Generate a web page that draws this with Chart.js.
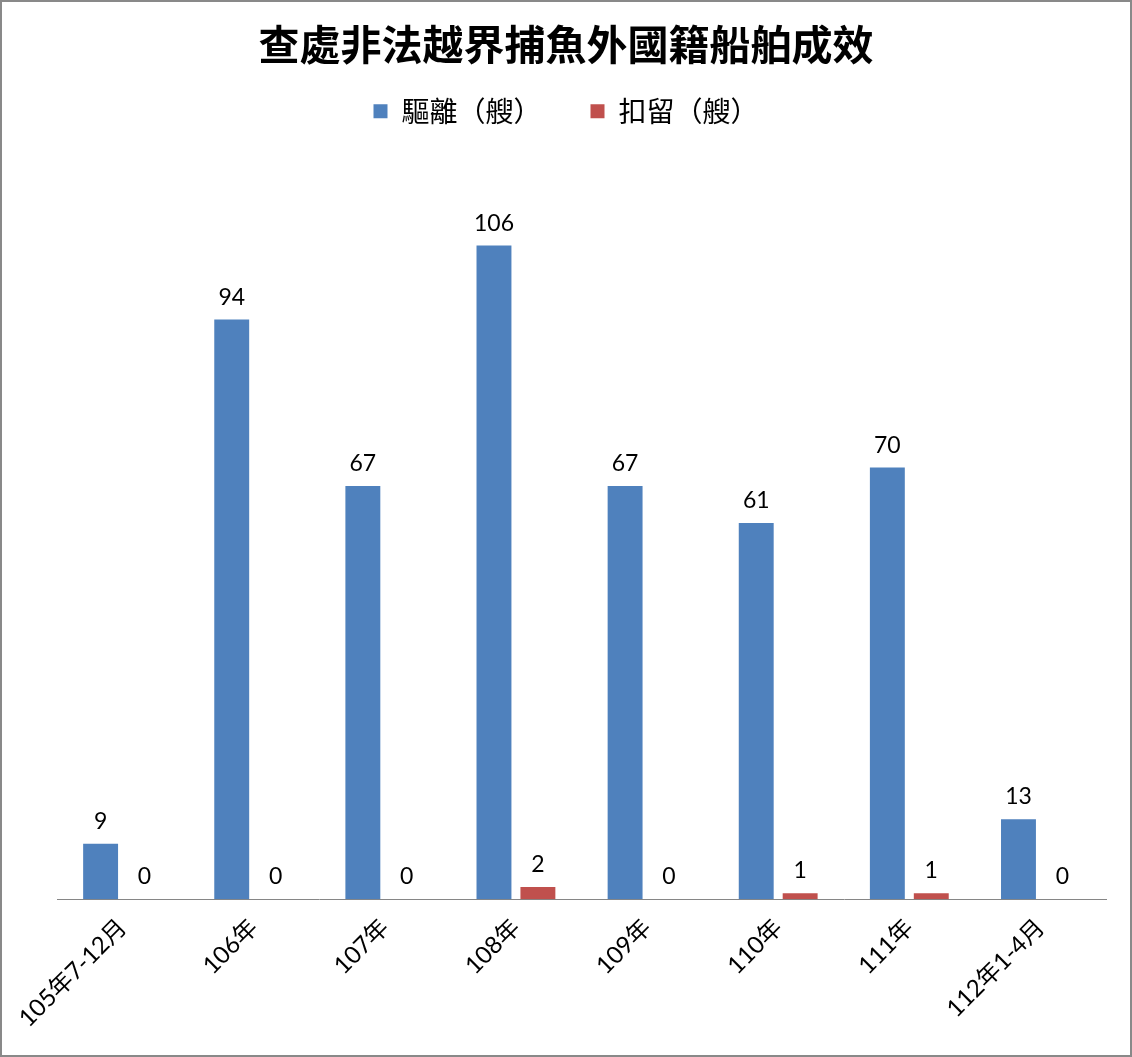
<!DOCTYPE html>
<html>
<head>
<meta charset="utf-8">
<script src="https://cdn.jsdelivr.net/npm/chart.js@4"></script>
<style>
    html, body { margin: 0; padding: 0; background: #fff; }
    #wrap {
        width: 1132px; height: 1057px; box-sizing: border-box;
        border: 2px solid #898989; position: relative;
    }
</style>
</head>
<body>
<div id="wrap"><canvas id="fishChart"></canvas></div>
<script>
const categories = ['105年7-12月', '106年', '107年', '108年', '109年', '110年', '111年', '112年1-4月'];
const expelled = [9, 94, 67, 106, 67, 61, 70, 13];
const detained = [0, 0, 0, 2, 0, 1, 1, 0];
const seriesNames = ['驅離（艘）', '扣留（艘）'];
const yMax = 120;

const numFont = "Lato, 'Noto Sans CJK TC', sans-serif";
const cjkFont = "'Noto Sans CJK TC', sans-serif";

// value labels above each bar
const barLabels = {
    id: 'barLabels',
    afterDatasetsDraw(chart) {
        const ctx = chart.ctx;
        ctx.save();
        ctx.font = "23px " + numFont;
        ctx.fillStyle = '#000';
        ctx.textAlign = 'center';
        ctx.textBaseline = 'alphabetic';
        chart.data.datasets.forEach(function(ds, i) {
            chart.getDatasetMeta(i).data.forEach(function(bar, j) {
                ctx.fillText(ds.data[j], bar.x, bar.y - 15);
            });
        });
        ctx.restore();
    }
};

// make room under the legend so the plot starts lower
const legendSpace = {
    id: 'legendSpace',
    beforeInit(chart) {
        const fit = chart.legend.fit;
        chart.legend.fit = function() {
            fit.bind(chart.legend)();
            this.height = 111;
        };
    }
};

const ctx = document.getElementById('fishChart').getContext('2d');
const chart = new Chart(ctx, {
    type: 'bar',
    data: {
        labels: categories,
        datasets: [{
            label: seriesNames[0],
            data: expelled,
            backgroundColor: '#4F81BD',
            categoryPercentage: 0.67,
            barPercentage: 0.795
        }, {
            label: seriesNames[1],
            data: detained,
            backgroundColor: '#C0504D',
            categoryPercentage: 0.67,
            barPercentage: 0.795
        }]
    },
    options: {
        responsive: true,
        maintainAspectRatio: false,
        animation: false,
        layout: {
            padding: { left: 24, right: 24, top: 0, bottom: 8 }
        },
        plugins: {
            title: {
                display: true,
                text: '查處非法越界捕魚外國籍船舶成效',
                color: '#000',
                font: { family: cjkFont, size: 41, weight: 'bold' },
                padding: { top: 18, bottom: -21 }
            },
            legend: {
                position: 'top',
                labels: {
                    color: '#000',
                    font: { family: cjkFont, size: 28 },
                    boxWidth: 14,
                    boxHeight: 14,
                    padding: 49
                }
            },
            tooltip: { enabled: false }
        },
        scales: {
            x: {
                grid: { display: false, drawTicks: false },
                border: { color: '#868686', width: 1 },
                ticks: {
                    color: '#000',
                    font: { family: numFont, size: 24 },
                    minRotation: 45,
                    maxRotation: 45,
                    padding: 14
                }
            },
            y: {
                min: 0,
                max: yMax,
                grid: { display: false },
                border: { display: false },
                ticks: { display: false },
                afterFit: function(scale) { scale.width = 31; }
            }
        }
    },
    plugins: [barLabels, legendSpace]
});
</script>
</body>
</html>
